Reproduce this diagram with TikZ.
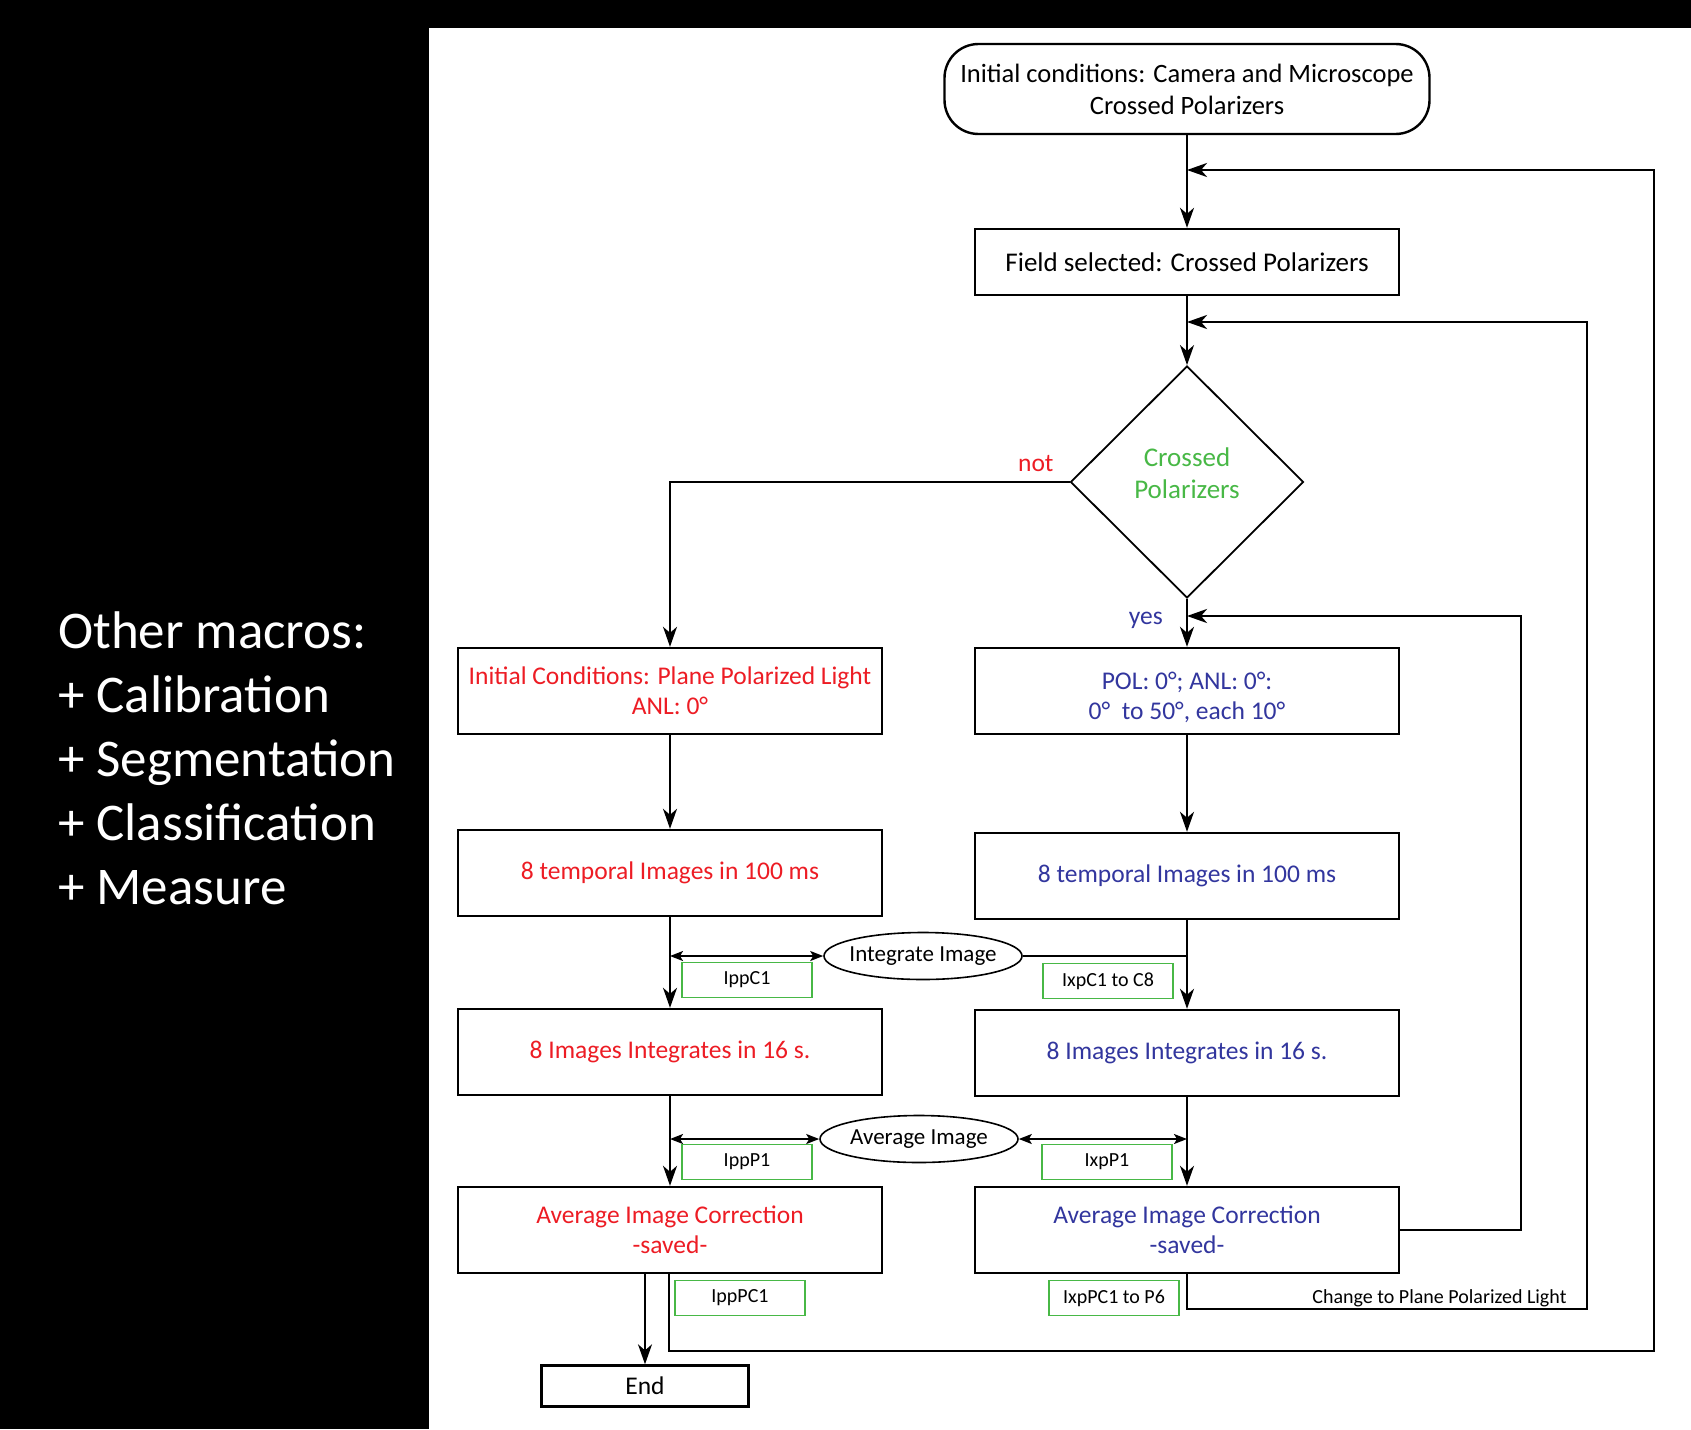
\documentclass[tikz,border=0pt]{standalone}
\usepackage{fontspec}
\setmainfont{Carlito}
\usetikzlibrary{arrows.meta,positioning,shapes.geometric,calc}
\definecolor{flowred}{RGB}{237,28,36}
\definecolor{flowblue}{RGB}{50,54,158}
\definecolor{flowgreen}{RGB}{72,184,70}

\begin{document}
\begin{tikzpicture}[
    x=1pt, y=-1pt,
    font=\fontsize{25.5}{30}\selectfont,
    box/.style={draw, line width=2.4pt, align=center, minimum width=424pt, minimum height=86pt},
    startbox/.style={draw, line width=2.4pt, rounded corners=34pt, align=center, minimum width=485pt, minimum height=90pt, font=\fontsize{26.5}{32}\selectfont},
    decision/.style={draw, diamond, line width=1.8pt, minimum width=233pt, minimum height=232pt},
    op/.style={draw, ellipse, line width=1.6pt, inner xsep=-4pt, inner ysep=2pt, minimum width=198pt, minimum height=47pt, font=\fontsize{23}{27}\selectfont},
    tag/.style={draw=flowgreen, line width=1.8pt, minimum width=130pt, minimum height=35pt, font=\fontsize{20}{24}\selectfont},
    line/.style={-{Stealth[length=20pt,width=14pt,inset=6pt]}, line width=1.8pt},
    loop/.style={line, line width=2.6pt},
    twoway/.style={{Stealth[length=13pt,width=10pt,inset=3pt]}-{Stealth[length=13pt,width=10pt,inset=3pt]}, line width=1.8pt}
]
    % Background
    \fill[black] (0,0) rectangle (1691,1429);
    \fill[white] (429,28) rectangle (1691,1429);
    \useasboundingbox (0,0) rectangle (1691,1429);

    % Side note
    \node[anchor=north west, inner sep=0pt, align=left, text=white, font=\fontsize{53}{64}\selectfont] (macros) at (58,611)
        {Other macros:\\+ Calibration\\+ Segmentation\\+ Classification\\+ Measure};

    % Node placement
    \node[startbox] (init) at (1187,89) {Initial conditions: Camera and Microscope\\Crossed Polarizers};
    \node[box, minimum height=66pt, font=\fontsize{27}{32}\selectfont] (field) at (1187,262) {Field selected: Crossed Polarizers};
    \node[decision] (cross) at (1187,482) {};
    \node[align=center, text=flowgreen, font=\fontsize{27}{32}\selectfont] (crosstext) at ([yshift=9pt]cross.center) {Crossed\\Polarizers};

    \node[box, text=flowred] (ppl) at (670,691) {Initial Conditions: Plane Polarized Light\\ANL: 0°};
    \node[box, text=flowblue] (pol) at (1187,691) {\rule{0pt}{30pt}POL: 0°; ANL: 0°:\\0°\ \ to 50°, each 10°};
    \node[box, text=flowred] (temp-r) at (670,873) {8 temporal Images in 100 ms};
    \node[box, text=flowblue] (temp-b) at (1187,876) {8 temporal Images in 100 ms};
    \node[box, text=flowred] (integ-r) at (670,1052) {8 Images Integrates in 16 s.};
    \node[box, text=flowblue] (integ-b) at (1187,1053) {8 Images Integrates in 16 s.};
    \node[box, text=flowred] (avg-r) at (670,1230) {Average Image Correction\\-saved-};
    \node[box, text=flowblue] (avg-b) at (1187,1230) {Average Image Correction\\-saved-};
    \node[box, minimum width=207pt, minimum height=41pt] (endbox) at (645,1386) {End};

    \node[op] (intimg) at (923,956) {Integrate Image};
    \node[op] (avgimg) at (919,1139) {Average Image};

    \node[tag] (ippc1) at (747,980) {IppC1};
    \node[tag] (ixpc1) at (1108,981) {IxpC1 to C8};
    \node[tag] (ippp1) at (747,1162) {IppP1};
    \node[tag] (ixpp1) at (1107,1162) {IxpP1};
    \node[tag] (ipppc1) at (740,1298) {IppPC1};
    \node[tag] (ixppc1) at (1114,1298) {IxpPC1 to P6};

    \node[anchor=base east, font=\fontsize{20}{24}\selectfont] (change) at (1570,1303) {Change to Plane Polarized Light};

    % Junctions of the feedback loops
    \coordinate (j1) at (1187,170);
    \coordinate (c1) at (1654,1351);
    \coordinate (j2) at (1187,322);
    \coordinate (c2) at (1587,1309);
    \coordinate (j3) at (1187,616);
    \coordinate (c3) at (1521,616);

    % Main flow
    \draw[line] (init.south) -- (field.north);
    \draw[line] (field.south) -- (cross.north);
    \draw[line] (cross.west) -| (ppl.north)
        node[pos=0.046, above=6pt, xshift=3pt, text=flowred] {not};
    \draw[line] (cross.south) -- (pol.north)
        node[pos=0.45, left, xshift=-20pt, text=flowblue] {yes};
    \draw[line] (ppl) -- (temp-r);
    \draw[line] (pol) -- (temp-b);
    \draw[line] (temp-r) -- (integ-r);
    \draw[line] (temp-b) -- (integ-b);
    \draw[line] (integ-r) -- (avg-r);
    \draw[line] (integ-b) -- (avg-b);
    \draw[line] (avg-r.south -| endbox.north) -- (endbox.north);

    % Operations
    \draw[twoway] (intimg.west -| temp-r.south) -- (intimg.west);
    \draw[line width=1.8pt] (intimg.east) -- (intimg.east -| temp-b.south);
    \draw[twoway] (avgimg.west -| integ-r.south) -- (avgimg.west);
    \draw[twoway] (avgimg.east) -- (avgimg.east -| integ-b.south);

    % Feedback loops
    \draw[loop] ([xshift=-1pt]avg-r.south) |- (c1) |- (j1);
    \draw[loop] (avg-b.south) |- (c2) |- (j2);
    \draw[loop] (avg-b.east) -| (c3) -- (j3);

\end{tikzpicture}
\end{document}
